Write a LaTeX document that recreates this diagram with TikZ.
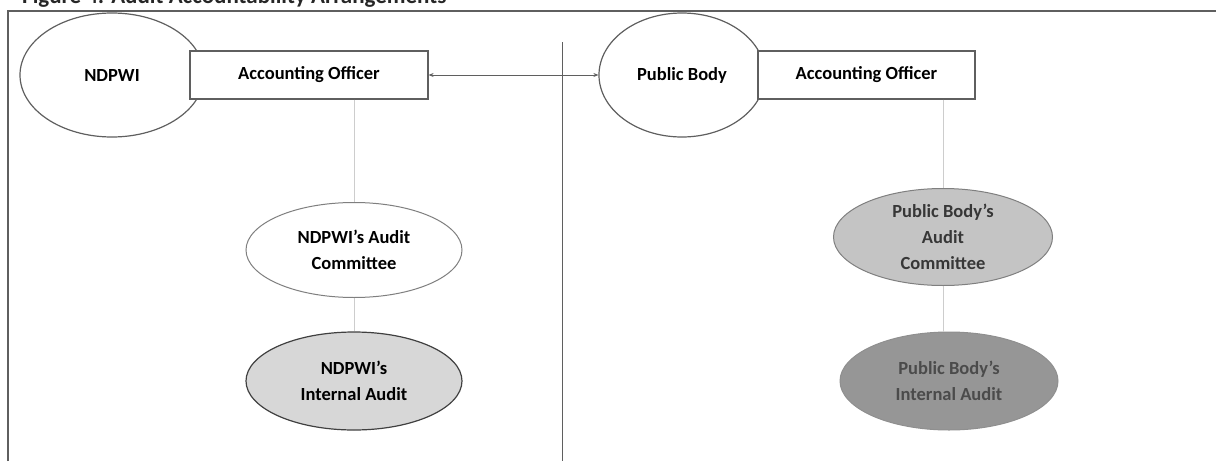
\documentclass[tikz,border=0pt]{standalone}
\usepackage{fontspec}
\setmainfont{Carlito}
\usetikzlibrary{shapes.geometric,arrows.meta}
\definecolor{edge}{RGB}{95,95,95}
\definecolor{conn}{RGB}{205,205,205}
\definecolor{fillA}{RGB}{215,215,215}
\definecolor{fillB}{RGB}{196,196,196}
\definecolor{fillC}{RGB}{150,150,150}
\definecolor{txtB}{RGB}{55,55,55}
\definecolor{txtC}{RGB}{75,75,75}
\tikzset{
  x=1pt, y=-1pt,
  lbl/.style={font=\fontsize{18.5}{26}\selectfont\bfseries, align=center},
  oval/.style={ellipse, draw=edge, line width=1.2pt, fill=white, inner sep=0pt, lbl},
  box/.style={rectangle, draw=edge, line width=1.2pt, fill=white, inner sep=0pt, lbl},
  link/.style={draw=conn, line width=1pt},
  frame/.style={draw=edge, line width=1.3pt}
}
\begin{document}
\begin{tikzpicture}
\useasboundingbox (0,0) rectangle (1216,461);
% caption (cut off at the top, as in the reference)
\node[anchor=base west, font=\fontsize{23}{26}\selectfont\bfseries, text=black!85, inner sep=0pt] (cap) at (22,3) {Figure 4: Audit Accountability Arrangements};
% frame
\coordinate (ftl) at (8,11);
\coordinate (ftr) at (1216,11);
\coordinate (fbl) at (8,461);
\draw[frame] (fbl) -- (ftl) -- (ftr);
% divider
\coordinate (dtop) at (562,42);
\coordinate (dbot) at (562,461);
\draw[draw=edge, line width=0.8pt] (dtop) -- (dbot);
% left side
\node[oval, minimum width=184pt, minimum height=124pt] (ndpwi) at (112,75) {NDPWI};
\node[box, minimum width=238pt, minimum height=48pt] (aoL) at (309,75) {Accounting Officer};
\node[oval, draw=edge!80, line width=1pt, minimum width=216pt, minimum height=95pt] (acL) at (354,250) {NDPWI’s Audit\\Committee};
\node[oval, fill=fillA, draw=black!75, line width=1.2pt, minimum width=216pt, minimum height=98pt] (iaL) at (354,381) {NDPWI’s\\Internal Audit};
% right side
\node[oval, minimum width=166pt, minimum height=124pt] (pb) at (682,75) {Public Body};
\node[box, minimum width=217pt, minimum height=48pt] (aoR) at (866.5,75) {Accounting Officer};
\node[oval, fill=fillB, draw=edge!80, line width=1pt, text=txtB, minimum width=219pt, minimum height=97pt] (acR) at (943,237) {Public Body’s\\Audit\\Committee};
\node[oval, fill=fillC, draw=edge!70, line width=1pt, text=txtC, minimum width=218pt, minimum height=98pt] (iaR) at (949,381) {Public Body’s\\Internal Audit};
% connectors
\draw[link] (acL.north |- aoL.south) -- (acL.north);
\draw[link] (acL.south) -- (acL.south |- iaL.north);
\draw[link] (acR.north |- aoR.south) -- (acR.north);
\draw[link] (acR.south) -- (acR.south |- iaR.north);
\draw[draw=edge, line width=0.8pt, {Stealth[length=5pt,width=4pt]}-{Stealth[length=5pt,width=4pt]}] (aoL.east) -- (pb.west);
\end{tikzpicture}
\end{document}
